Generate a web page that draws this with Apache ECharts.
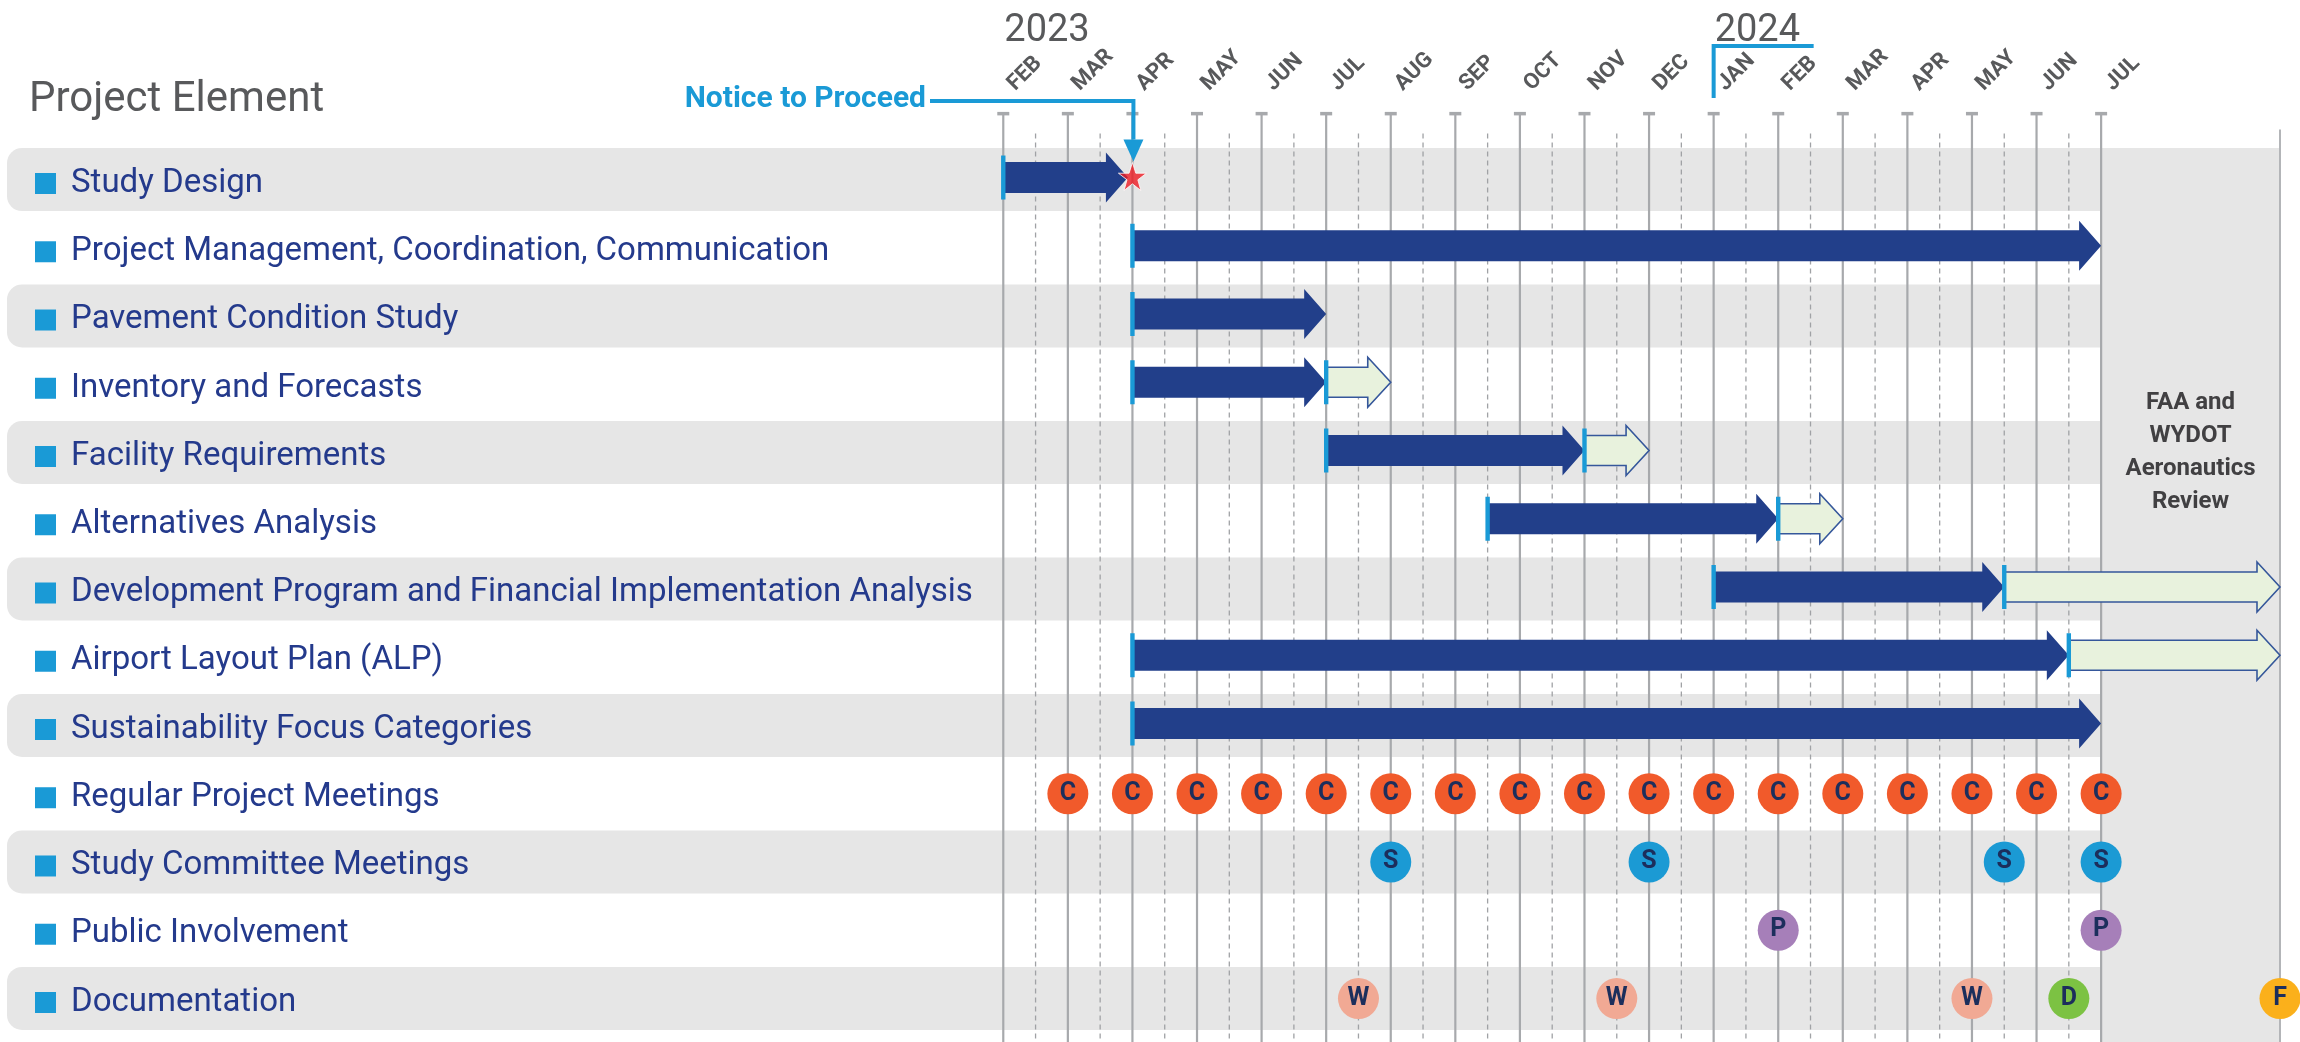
<!DOCTYPE html>
<html>
<head>
<meta charset="utf-8">
<title>Project Schedule</title>
<script src="https://cdn.jsdelivr.net/npm/echarts@6/dist/echarts.min.js"></script>
<style>
  html, body { margin: 0; padding: 0; background: #fff; }
  #main { width: 2300px; height: 1042px; }
</style>
</head>
<body>
<div id="main"></div>
<script>
// x values are months counted from JAN 2023 = 0 (FEB 2023 = 1 ... JUL 2024 = 18)
var monthLabels = ['FEB', 'MAR', 'APR', 'MAY', 'JUN', 'JUL', 'AUG', 'SEP', 'OCT', 'NOV', 'DEC',
                   'JAN', 'FEB', 'MAR', 'APR', 'MAY', 'JUN', 'JUL'];
var yearLabels = ['2023', '2024'];
var yearStart = [1, 12];

var rows = [
  'Study Design',
  'Project Management, Coordination, Communication',
  'Pavement Condition Study',
  'Inventory and Forecasts',
  'Facility Requirements',
  'Alternatives Analysis',
  'Development Program and Financial Implementation Analysis',
  'Airport Layout Plan (ALP)',
  'Sustainability Focus Categories',
  'Regular Project Meetings',
  'Study Committee Meetings',
  'Public Involvement',
  'Documentation'
];

// dark arrows (work) and light arrows (review)
var darkRow   = [0, 1, 2, 3, 4, 5, 6, 7, 8];
var darkStart = [1, 3, 3, 3, 6, 8.5, 12, 3, 3];
var darkEnd   = [2.93, 18, 6, 6, 10, 13, 16.5, 17.5, 18];
var lightRow   = [3, 4, 5, 6, 7];
var lightStart = [6, 10, 13, 16.5, 17.5];
var lightEnd   = [7, 11, 14, 20.77, 20.77];

// milestones
var meetingC = [2, 3, 4, 5, 6, 7, 8, 9, 10, 11, 12, 13, 14, 15, 16, 17, 18];
var committeeS = [7, 11, 16.5, 18];
var publicP = [13, 18];
var docW = [6.5, 10.5, 16];
var docD = [17.5];
var docF = [20.77];

var noticeMonth = 3;
var reviewSpan = [18, 20.77];
var reviewText = 'FAA and\nWYDOT\nAeronautics\nReview';

var FONT = 'Roboto';
var NAVY = '#223f8a';
var CYAN = '#1a9ad6';
var GRAY_TXT = '#58595b';
var BAND = '#e6e6e6';

var chart = echarts.init(document.getElementById('main'));

function bottomY(cs) { return cs.y + cs.height + 12; }

// gray bands on every other row
function renderBand(params, api) {
  var c = api.coord([api.value(0), api.value(1)]);
  return {
    type: 'rect',
    shape: { x: 7, y: c[1] - 31.5, width: c[0] - 7, height: 63, r: [15, 0, 0, 15] },
    style: { fill: BAND }
  };
}

function renderReview(params, api) {
  var cs = params.coordSys;
  var a = api.coord([api.value(0), 0]);
  var b = api.coord([api.value(1), 0]);
  var mid = api.coord([(api.value(0) + api.value(1)) / 2, api.value(2)]);
  return {
    type: 'group',
    children: [
      { type: 'rect', shape: { x: a[0], y: a[1] - 31.5, width: b[0] - a[0], height: bottomY(cs) - a[1] + 31.5 },
        style: { fill: BAND } },
      { type: 'line', shape: { x1: b[0], y1: cs.y - 16, x2: b[0], y2: bottomY(cs) },
        style: { stroke: '#b3b5b8', lineWidth: 2 } },
      { type: 'text', x: mid[0], y: mid[1],
        style: { text: reviewText, fill: '#414042', font: 'bold 24px ' + FONT,
                 align: 'center', verticalAlign: 'middle', lineHeight: 33 } }
    ]
  };
}

function renderMonthLine(params, api) {
  var cs = params.coordSys;
  var x = api.coord([api.value(0), 0])[0];
  return {
    type: 'group',
    children: [
      { type: 'line', shape: { x1: x, y1: cs.y - 32, x2: x, y2: bottomY(cs) },
        style: { stroke: '#a7a9ac', lineWidth: 2.2 } },
      { type: 'rect', shape: { x: x - 6, y: cs.y - 33.5, width: 12, height: 3.5 },
        style: { fill: '#a7a9ac' } },
      { type: 'text', x: x + 8, y: cs.y - 58, rotation: Math.PI / 4,
        style: { text: monthLabels[params.dataIndex], fill: GRAY_TXT, font: 'bold 22px ' + FONT,
                 align: 'left', verticalAlign: 'middle' } }
    ]
  };
}

function renderHalfLine(params, api) {
  var cs = params.coordSys;
  var x = api.coord([api.value(0), 0])[0];
  return {
    type: 'line',
    shape: { x1: x, y1: cs.y - 12, x2: x, y2: bottomY(cs) },
    style: { stroke: '#a0a2a5', lineWidth: 1.3, lineDash: [5, 4] }
  };
}

function arrowPoints(x0, x1, y, body, head, headLen) {
  var xb = x1 - headLen;
  return [[x0, y - body / 2], [xb, y - body / 2], [xb, y - head / 2], [x1, y],
          [xb, y + head / 2], [xb, y + body / 2], [x0, y + body / 2]];
}

function makeArrowRenderer(light) {
  return function (params, api) {
    var p0 = api.coord([api.value(0), api.value(2)]);
    var p1 = api.coord([api.value(1), api.value(2)]);
    var y = p0[1] - 2;
    var poly = light
      ? { type: 'polygon', shape: { points: arrowPoints(p0[0], p1[0], y, 30, 50, 23) },
          style: { fill: '#e8f2dd', stroke: '#35579b', lineWidth: 1.6 } }
      : { type: 'polygon', shape: { points: arrowPoints(p0[0], p1[0], y, 31, 50, 22) },
          style: { fill: NAVY } };
    return {
      type: 'group',
      children: [
        poly,
        { type: 'rect', shape: { x: p0[0] - 2.2, y: y - 22, width: 4.4, height: 44 },
          style: { fill: CYAN } }
      ]
    };
  };
}

function renderYears(params, api) {
  var x = api.coord([api.value(0), 0])[0];
  var children = [
    { type: 'text', x: x + 1, y: 31,
      style: { text: yearLabels[params.dataIndex], fill: GRAY_TXT, font: '38px ' + FONT,
               align: 'left', verticalAlign: 'middle' } }
  ];
  if (params.dataIndex > 0) {
    children.push({ type: 'polyline', shape: { points: [[x, 98], [x, 46], [x + 100, 46]] },
                    style: { stroke: CYAN, lineWidth: 4, fill: null } });
  }
  return { type: 'group', children: children };
}

function renderNotice(params, api) {
  var cs = params.coordSys;
  var x = api.coord([api.value(0), 0])[0] + 1;
  var yl = cs.y - 44.5;
  return {
    type: 'group',
    children: [
      { type: 'text', x: 926, y: yl - 1,
        style: { text: 'Notice to Proceed', fill: CYAN, font: 'bold 30px ' + FONT,
                 align: 'right', verticalAlign: 'middle' } },
      { type: 'polyline', shape: { points: [[930, yl], [x, yl], [x, cs.y - 6]] },
        style: { stroke: CYAN, lineWidth: 4, fill: null } },
      { type: 'polygon', shape: { points: [[x - 10, cs.y - 6], [x + 10, cs.y - 6], [x, cs.y + 16]] },
        style: { fill: CYAN } }
    ]
  };
}

function milestone(name, months, row, letter, color) {
  return {
    name: name,
    type: 'scatter',
    z: 6,
    symbol: 'circle',
    symbolSize: 41,
    itemStyle: { color: color, opacity: 1 },
    label: {
      show: true, position: 'inside', formatter: letter,
      color: '#1c2e5c', fontFamily: FONT, fontWeight: 'bold', fontSize: 25
    },
    data: months.map(function (m) { return [m, row]; })
  };
}

var bandData = rows.map(function (r, i) { return [18, i]; }).filter(function (d) { return d[1] % 2 === 0; });

var option = {
  animation: false,
  backgroundColor: '#ffffff',
  textStyle: { fontFamily: FONT },
  graphic: [
    { type: 'text', left: 29, top: 79,
      style: { text: 'Project Element', fill: GRAY_TXT, font: '42px ' + FONT } }
  ],
  grid: { left: 938.7, right: 20, top: 145.4, bottom: 9.4 },
  xAxis: {
    type: 'value',
    position: 'top',
    min: 0,
    max: 20.77,
    interval: 1,
    axisLine: { show: false },
    axisTick: { show: false },
    splitLine: { show: false },
    axisLabel: { show: false }
  },
  yAxis: {
    type: 'category',
    inverse: true,
    z: 10,
    data: rows,
    axisLine: { show: false },
    axisTick: { show: false },
    splitLine: { show: false },
    axisLabel: {
      align: 'left',
      margin: 938.7 - 35,
      padding: [8, 0, 0, 0],
      formatter: function (v) { return '{sq|}{t|' + v + '}'; },
      rich: {
        sq: { width: 21, height: 21, backgroundColor: CYAN },
        t: { fontFamily: FONT, fontSize: 33, color: '#243a8c', padding: [0, 0, 0, 15], lineHeight: 40 }
      }
    }
  },
  series: [
    { type: 'custom', name: 'bands', z: 1, renderItem: renderBand,
      encode: { x: 0, y: 1 }, data: bandData, silent: true },
    { type: 'custom', name: 'review', z: 2, renderItem: renderReview,
      encode: { x: [0, 1], y: 2 }, data: [[reviewSpan[0], reviewSpan[1], 4]], silent: true },
    { type: 'custom', name: 'months', z: 3, renderItem: renderMonthLine,
      encode: { x: 0, y: 1 }, data: monthLabels.map(function (l, i) { return [i + 1, 0]; }), silent: true },
    { type: 'custom', name: 'halfMonths', z: 3, renderItem: renderHalfLine,
      encode: { x: 0, y: 1 },
      data: monthLabels.slice(1).map(function (l, i) { return [i + 1.5, 0]; }), silent: true },
    { type: 'custom', name: 'work', z: 4, renderItem: makeArrowRenderer(false),
      encode: { x: [0, 1], y: 2 },
      data: darkRow.map(function (r, i) { return [darkStart[i], darkEnd[i], r]; }) },
    { type: 'custom', name: 'review arrows', z: 5, renderItem: makeArrowRenderer(true),
      encode: { x: [0, 1], y: 2 },
      data: lightRow.map(function (r, i) { return [lightStart[i], lightEnd[i], r]; }) },
    { type: 'custom', name: 'years', z: 6, renderItem: renderYears,
      encode: { x: 0, y: 1 }, data: yearStart.map(function (m) { return [m, 0]; }), silent: true },
    { type: 'custom', name: 'notice', z: 6, renderItem: renderNotice,
      encode: { x: 0, y: 1 }, data: [[noticeMonth, 0]], silent: true },
    {
      type: 'scatter', name: 'start', z: 7,
      symbol: 'path://M50,0 L61.8,35.1 L98.9,35.1 L68.9,56.7 L79.4,91.9 L50,70 L20.6,91.9 L31.1,56.7 L1.1,35.1 L38.2,35.1 Z',
      symbolSize: 28,
      symbolOffset: [0, -3],
      itemStyle: { color: '#ed1c24', borderColor: '#ffffff', borderWidth: 1 },
      data: [[noticeMonth, 0]]
    },
    milestone('Regular', meetingC, 9, 'C', '#f15a2b'),
    milestone('Committee', committeeS, 10, 'S', '#1b9ad4'),
    milestone('Public', publicP, 11, 'P', '#a67fb9'),
    milestone('Working paper', docW, 12, 'W', '#f1a994'),
    milestone('Draft', docD, 12, 'D', '#7cc243'),
    milestone('Final', docF, 12, 'F', '#fbb01b')
  ]
};

chart.setOption(option);
</script>
</body>
</html>
